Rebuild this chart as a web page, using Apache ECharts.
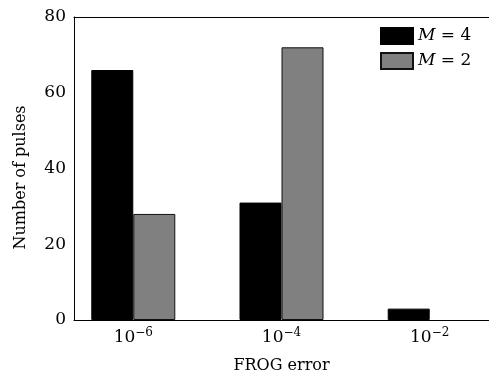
<!DOCTYPE html>
<html><head><meta charset="utf-8">
<script src="https://cdn.jsdelivr.net/npm/echarts@6/dist/echarts.min.js"></script>
<style>html,body{margin:0;padding:0;background:#fff}#c{width:489px;height:373px}</style>
</head><body><div id="c"></div>
<script>
// Data
const exponents = ['\u22126', '\u22124', '\u22122'];   // tick labels: 10^exponent
const seriesNames = ['M = 4', 'M = 2'];
const m4 = [66, 31, 3];
const m2 = [28, 72, 0];
const yTicks = [0, 20, 40, 60, 80];

const FONT = 'DejaVu Serif';
const positions = exponents.map((e, i) => i + 1);

const chart = echarts.init(document.getElementById('c'), null, {renderer: 'canvas'});
const axisLine = {show: true, lineStyle: {color: '#000', width: 1}};

function xLabel(v) {
  const r = Math.round(v);
  if (Math.abs(v - r) > 1e-6) return '';
  const i = positions.indexOf(r);
  if (i < 0) return '';
  return '{b|10}{s|' + exponents[i] + '}';
}
function barData(vals) {
  return positions.map((p, i) => [p, vals[i] === 0 ? null : vals[i]]);
}

chart.setOption({
  animation: false,
  backgroundColor: '#fff',
  grid: {left: 74, right: 0, top: 17, bottom: 53, containLabel: false, outerBoundsMode: 'none'},
  legend: {
    left: 380, top: 27, orient: 'vertical', padding: 0,
    icon: 'rect', itemWidth: 32, itemHeight: 16, itemGap: 7,
    data: seriesNames,
    formatter: function (n) { return '{i|M}{t| = ' + n.slice(4) + '}'; },
    textStyle: {fontFamily: FONT, fontSize: 17, color: '#000',
      rich: {
        i: {fontFamily: FONT, fontStyle: 'italic', fontSize: 17, color: '#000'},
        t: {fontFamily: FONT, fontSize: 17, color: '#000'}
      }}
  },
  xAxis: [{
    type: 'value', min: 0.6, max: 3.4, interval: 0.2,
    axisLine: axisLine, axisTick: {show: false}, splitLine: {show: false},
    axisLabel: {
      formatter: xLabel, margin: 7, showMinLabel: false, showMaxLabel: false,
      rich: {
        b: {fontFamily: FONT, fontSize: 17, color: '#000', lineHeight: 21},
        s: {fontFamily: FONT, fontSize: 12, color: '#000', verticalAlign: 'top'}
      }
    },
    name: 'FROG error', nameLocation: 'middle', nameGap: 38,
    nameTextStyle: {fontFamily: FONT, fontSize: 16, color: '#000'}
  }, {
    type: 'value', min: 0.6, max: 3.4, interval: 0.2, position: 'top',
    axisLine: axisLine, axisTick: {show: false}, splitLine: {show: false},
    axisLabel: {show: false}
  }],
  yAxis: {
    type: 'value', min: yTicks[0], max: yTicks[yTicks.length - 1], interval: yTicks[1] - yTicks[0],
    axisLine: axisLine, axisTick: {show: false}, splitLine: {show: false},
    axisLabel: {fontFamily: FONT, fontSize: 17, color: '#000', margin: 8},
    name: 'Number of pulses', nameLocation: 'middle', nameGap: 45,
    nameTextStyle: {fontFamily: FONT, fontSize: 16, color: '#000', padding: [0, 18, 0, 0]}
  },
  series: [
    {name: seriesNames[0], type: 'bar', xAxisIndex: 0, barWidth: 42, barGap: '0%',
     data: barData(m4),
     itemStyle: {color: '#000', borderColor: '#000', borderWidth: 1}},
    {name: seriesNames[1], type: 'bar', xAxisIndex: 0, barWidth: 42, barGap: '0%',
     data: barData(m2),
     itemStyle: {color: '#808080', borderColor: '#111', borderWidth: 1}}
  ]
});
</script></body></html>
